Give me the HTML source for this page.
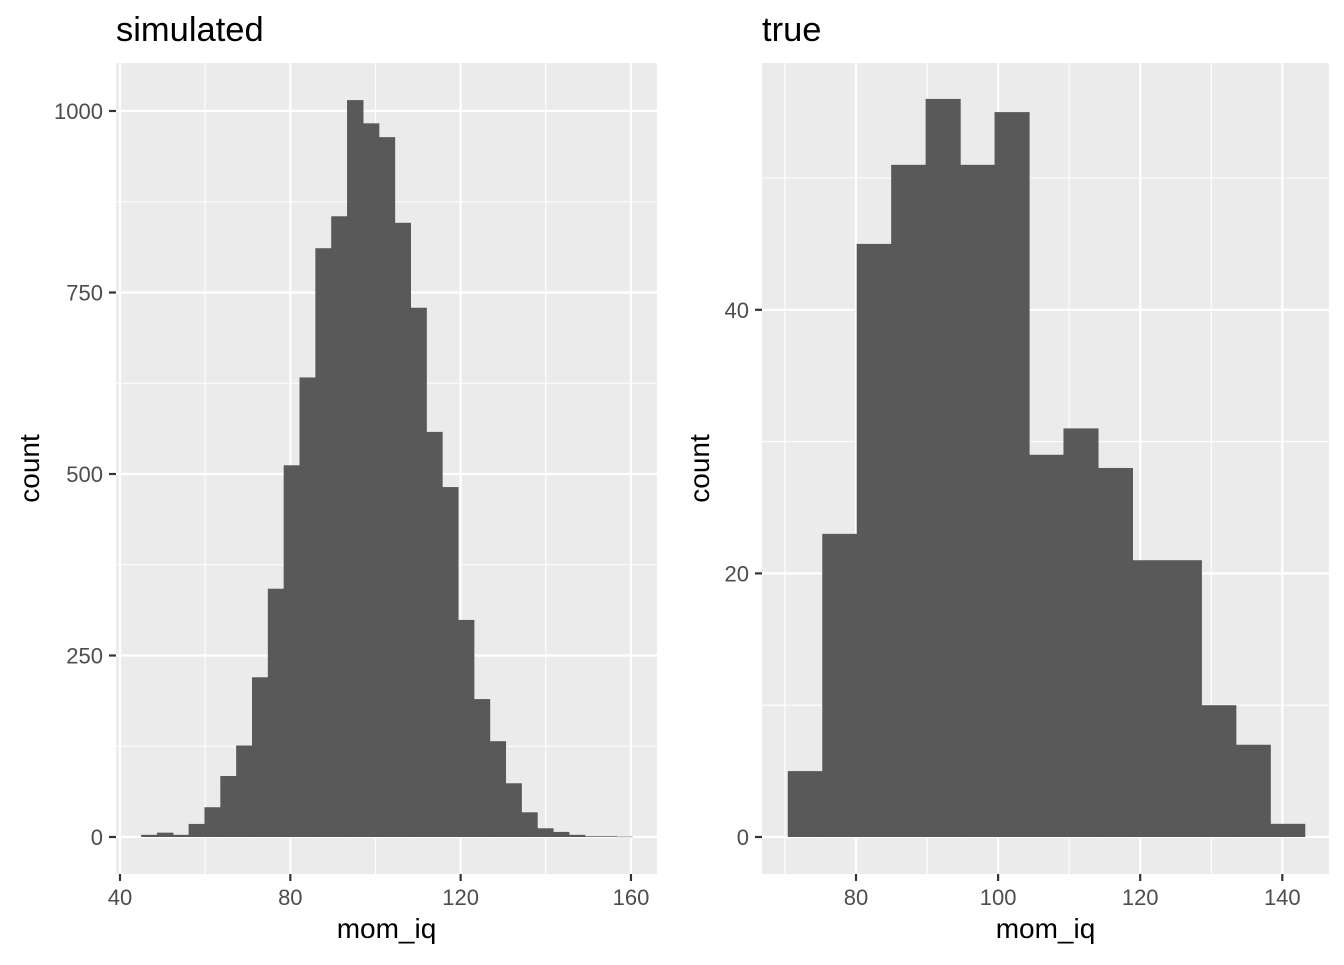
<!DOCTYPE html>
<html><head><meta charset="utf-8"><style>
body{margin:0;background:#fff;font-family:"Liberation Sans",sans-serif}
svg text{font-family:"Liberation Sans",sans-serif}
</style></head><body>
<svg id="s" width="1344" height="960" xmlns="http://www.w3.org/2000/svg"></svg>
<script>
// simulated panel data
const simStart = 44.96;
const simBinWidth = 3.72;
const simCounts = [3,6,3,18,41,84,126,220,342,512,633,811,855,1015,983,964,846,729,558,482,299,190,132,74,34,12,7,3,1,1,0.5];
const simXTicks = [40,80,120,160];
const simXMinor = [60,100,140];
const simYTicks = [0,250,500,750,1000];
const simYMinor = [125,375,625,875];
// true panel data
const trueStart = 70.4;
const trueBinWidth = 4.85;
const trueCounts = [5,23,45,51,56,51,55,29,31,28,21,21,10,7,1];
const trueXTicks = [80,100,120,140];
const trueXMinor = [70,90,110,130];
const trueYTicks = [0,20,40];
const trueYMinor = [10,30,50];

const NS="http://www.w3.org/2000/svg";
const svg=document.getElementById('s');
function mk(tag,attrs,parent){const e=document.createElementNS(NS,tag);for(const k in attrs)e.setAttribute(k,attrs[k]);(parent||svg).appendChild(e);return e;}

function panel(p){
  const g=mk('g',{});
  
  
  const sx=v=>p.x0px+(v-p.x0v)*p.xs;
  const sy=v=>p.y0px-v*p.ys;
  const bg=mk('rect',{x:p.L,y:p.T,width:p.R-p.L,height:p.B-p.T,fill:'#ebebeb'},g);
  
  
  p.xMinor.forEach(v=>{const l=mk('line',{x1:sx(v),x2:sx(v),y1:p.T,y2:p.B,stroke:'#fff','stroke-width':1.1},g);});
  p.yMinor.forEach(v=>{const l=mk('line',{x1:p.L,x2:p.R,y1:sy(v),y2:sy(v),stroke:'#fff','stroke-width':1.1},g);});
  p.xTicks.forEach(v=>{const l=mk('line',{x1:sx(v),x2:sx(v),y1:p.T,y2:p.B,stroke:'#fff','stroke-width':2.2},g);});
  p.yTicks.forEach(v=>{const l=mk('line',{x1:p.L,x2:p.R,y1:sy(v),y2:sy(v),stroke:'#fff','stroke-width':2.2},g);});
  p.counts.forEach((c,i)=>{
    const a=p.start+i*p.bw, b=a+p.bw;
    const x1=sx(a),x2=sx(b),y=sy(c);
    const r=mk('rect',{x:x1,y:y,width:x2-x1+0.6,height:Math.max(sy(0)-y,0.5),fill:'#595959'},g);
    
    
  });
  p.xTicks.forEach(v=>{
    mk('line',{x1:sx(v),x2:sx(v),y1:p.B,y2:p.B+7,stroke:'#333','stroke-width':2.2},g);
    const t=mk('text',{x:sx(v),y:p.B+31,'text-anchor':'middle','font-size':22,fill:'#4d4d4d'},g);
    t.textContent=v;
    
    
  });
  p.yTicks.forEach(v=>{
    mk('line',{x1:p.L-7,x2:p.L,y1:sy(v),y2:sy(v),stroke:'#333','stroke-width':2.2},g);
    const t=mk('text',{x:p.L-13,y:sy(v)+8,'text-anchor':'end','font-size':22,fill:'#4d4d4d'},g);
    t.textContent=v;
    
    
  });
  const xt=mk('text',{x:(p.L+p.R)/2,y:938,'text-anchor':'middle','font-size':28,fill:'#000'},g);
  xt.textContent='mom_iq';
  
  
  const yt=mk('text',{x:0,y:0,'text-anchor':'middle','font-size':28,fill:'#000',transform:`translate(${p.ytx},${(p.T+p.B)/2}) rotate(-90)`},g);
  yt.textContent='count';
  
  
  const tt=mk('text',{x:p.L,y:41,'font-size':34.5,fill:'#000'},g);
  tt.textContent=p.title;
  
  
}
panel({name:'simulated',title:'simulated',L:116,R:657,T:63,B:874,x0v:40,x0px:120,xs:4.258,y0px:837,ys:0.726,
  start:simStart,bw:simBinWidth,counts:simCounts,xTicks:simXTicks,xMinor:simXMinor,yTicks:simYTicks,yMinor:simYMinor,ytx:39});
panel({name:'true',title:'true',L:762,R:1329,T:63,B:874,x0v:80,x0px:856,xs:7.105,y0px:837,ys:13.18,
  start:trueStart,bw:trueBinWidth,counts:trueCounts,xTicks:trueXTicks,xMinor:trueXMinor,yTicks:trueYTicks,yMinor:trueYMinor,ytx:709});
</script>
</body></html>
